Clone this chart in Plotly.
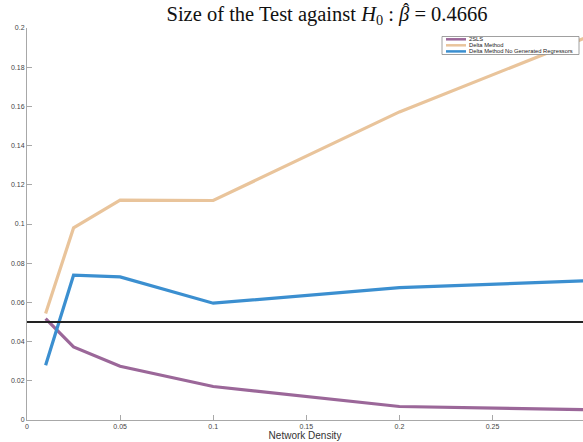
import plotly.graph_objects as go

density = [0.01, 0.025, 0.05, 0.1, 0.2, 0.3]
size_2sls = [0.0517, 0.0373, 0.0274, 0.0171, 0.0069, 0.0053]
size_delta = [0.0543, 0.0980, 0.1122, 0.1120, 0.1572, 0.1950]
size_delta_ngr = [0.0279, 0.0739, 0.0730, 0.0596, 0.0675, 0.0710]
nominal = 0.05

names = ["2SLS", "Delta Method", "Delta Method No Generated Regressors"]
colors = ["#9b6799", "#e9c49b", "#3b8fd0"]
series = [size_2sls, size_delta, size_delta_ngr]

x_ticks = [0, 0.05, 0.1, 0.15, 0.2, 0.25]
x_ticklabels = ["0", "0.05", "0.1", "0.15", "0.2", "0.25"]
y_ticks = [0, 0.02, 0.04, 0.06, 0.08, 0.1, 0.12, 0.14, 0.16, 0.18, 0.2]
y_ticklabels = ["0", "0.02", "0.04", "0.06", "0.08", "0.1", "0.12", "0.14", "0.16", "0.18", "0.2"]

fig = go.Figure()
for nm, col, ys in zip(names, colors, series):
    fig.add_trace(go.Scatter(x=density, y=ys, mode="lines", name=nm,
                             line=dict(color=col, width=3.2), showlegend=False))

fig.add_trace(go.Scatter(x=[0, 0.3], y=[nominal, nominal], mode="lines",
                         line=dict(color="#222222", width=2), showlegend=False,
                         hoverinfo="skip"))

# compact legend box (MATLAB style)
W, H = 583, 442
ml, mr, mt, mb = 27, 0, 28, 22
pw, ph = W - ml - mr, H - mt - mb

def px_to_paper_x(px):
    return (px - ml) / pw

def px_to_paper_y(py):
    return 1 - (py - mt) / ph

lx0, lx1, ly0, ly1 = 442, 579, 36.5, 54.5
fig.add_shape(type="rect", xref="paper", yref="paper",
              x0=px_to_paper_x(lx0), x1=px_to_paper_x(lx1),
              y0=px_to_paper_y(ly1), y1=px_to_paper_y(ly0),
              line=dict(color="#888888", width=0.8), fillcolor="white", layer="above")
rows = [39.3, 45.3, 51.4]
for nm, col, ry in zip(names, colors, rows):
    fig.add_shape(type="line", xref="paper", yref="paper",
                  x0=px_to_paper_x(446), x1=px_to_paper_x(466),
                  y0=px_to_paper_y(ry), y1=px_to_paper_y(ry),
                  line=dict(color=col, width=2.5), layer="above")
    fig.add_annotation(xref="paper", yref="paper", x=px_to_paper_x(467.5),
                       y=px_to_paper_y(ry), text=nm, showarrow=False,
                       xanchor="left", yanchor="middle", borderpad=0,
                       font=dict(family="Liberation Sans, Arial", size=5.8, color="#222222"))

title_text = "Size of the Test against <i>H</i><sub>0</sub> : <i>β</i> = 0.4666"
title_font = dict(family="Liberation Serif, DejaVu Serif, serif", size=20.5, color="#111111")

# hat accent over beta
fig.add_annotation(xref="paper", yref="paper", x=px_to_paper_x(406), y=px_to_paper_y(10.5),
                   text="ˆ", showarrow=False, xanchor="center", yanchor="middle",
                   font=dict(family="Liberation Serif, DejaVu Serif, serif", size=18, color="#111111"))

fig.update_layout(
    width=W, height=H,
    margin=dict(l=ml, r=mr, t=mt, b=mb, pad=0),
    paper_bgcolor="white", plot_bgcolor="white",
    title=dict(text=title_text,
               x=(327 - ml) / pw, xref="paper", xanchor="center", y=1 - 14 / H, yanchor="middle",
               font=title_font),
    showlegend=False,
    xaxis=dict(range=[0, 0.2986], tickvals=x_ticks, ticktext=x_ticklabels,
               showgrid=False, zeroline=False, showline=True, linecolor="#a8a8a8", linewidth=1,
               ticks="inside", ticklen=5, tickcolor="#a8a8a8", tickwidth=1,
               tickfont=dict(family="Liberation Sans, Arial", size=7, color="#444444"),
               title=dict(text="Network Density", standoff=1,
                          font=dict(family="Liberation Sans, Arial", size=10, color="#333333"))),
    yaxis=dict(range=[0, 0.2], tickvals=y_ticks, ticktext=y_ticklabels,
               showgrid=False, zeroline=False, showline=True, linecolor="#a8a8a8", linewidth=1,
               ticks="inside", ticklen=5, tickcolor="#a8a8a8", tickwidth=1,
               tickfont=dict(family="Liberation Sans, Arial", size=7, color="#444444")),
)

fig.write_html("out.html")
